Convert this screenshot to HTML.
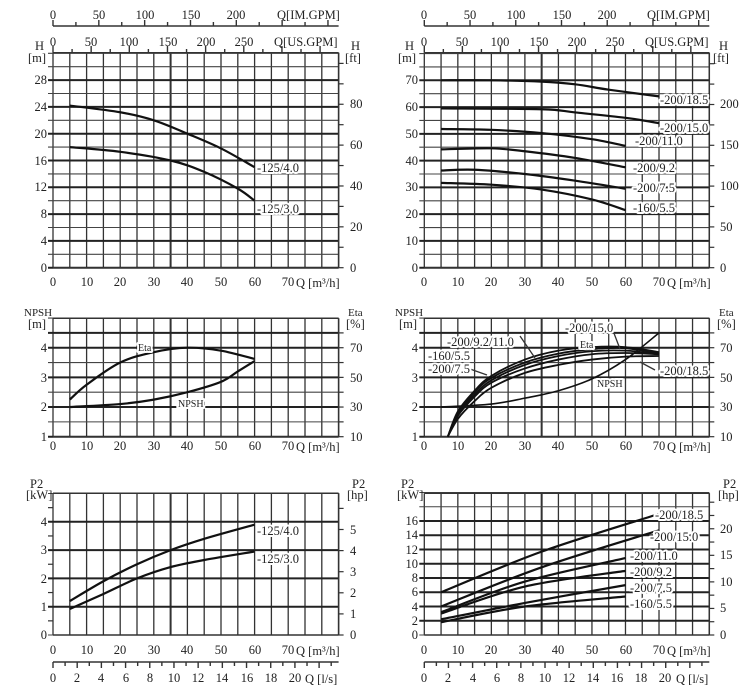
<!DOCTYPE html>
<html><head><meta charset="utf-8"><style>
html,body{margin:0;padding:0;background:#fff;}
svg{display:block;font-family:"Liberation Serif",serif;font-size:12.5px;fill:#222;}
.lb{stroke:#fff;stroke-width:4px;paint-order:stroke;stroke-linejoin:round;}
</style></head><body>
<svg id="s" width="751" height="700" viewBox="0 0 751 700" xmlns="http://www.w3.org/2000/svg">
<g id="g"></g>
<g id="t">
<!-- TOP LEFT -->
<g text-anchor="middle">
<text x="53" y="19">0</text><text x="99" y="19">50</text><text x="145" y="19">100</text><text x="191" y="19">150</text><text x="236" y="19">200</text>
<text x="53" y="46">0</text><text x="91" y="46">50</text><text x="129" y="46">100</text><text x="168" y="46">150</text><text x="206" y="46">200</text><text x="244" y="46">250</text>
</g>
<text x="277" y="19">Q[IM.GPM]</text><text x="274" y="46">Q[US.GPM]</text>
<text x="35" y="50">H</text><text x="28" y="62">[m]</text>
<text x="351" y="50">H</text><text x="345" y="62">[ft]</text>
<g text-anchor="end">
<text x="47" y="272">0</text><text x="47" y="245">4</text><text x="47" y="218">8</text><text x="47" y="191">12</text><text x="47" y="165">16</text><text x="47" y="138">20</text><text x="47" y="111">24</text><text x="47" y="84">28</text>
</g>
<text x="350" y="272">0</text><text x="350" y="231">20</text><text x="350" y="190">40</text><text x="350" y="149">60</text><text x="350" y="108">80</text>
<g text-anchor="middle">
<text x="53" y="286">0</text><text x="87" y="286">10</text><text x="120" y="286">20</text><text x="154" y="286">30</text><text x="187" y="286">40</text><text x="221" y="286">50</text><text x="255" y="286">60</text><text x="288" y="286">70</text>
</g>
<text x="296" y="287">Q [m³/h]</text>
<text class="lb" x="257" y="172">-125/4.0</text><text class="lb" x="257" y="213">-125/3.0</text>

<!-- TOP RIGHT -->
<g text-anchor="middle">
<text x="424" y="19">0</text><text x="470" y="19">50</text><text x="516" y="19">100</text><text x="562" y="19">150</text><text x="607" y="19">200</text>
<text x="424" y="46">0</text><text x="462" y="46">50</text><text x="500" y="46">100</text><text x="539" y="46">150</text><text x="577" y="46">200</text><text x="615" y="46">250</text>
</g>
<text x="647" y="19">Q[IM.GPM]</text><text x="645" y="46">Q[US.GPM]</text>
<text x="405" y="50">H</text><text x="398" y="62">[m]</text>
<text x="719" y="50">H</text><text x="713" y="62">[ft]</text>
<g text-anchor="end">
<text x="418" y="272">0</text><text x="418" y="245">10</text><text x="418" y="218">20</text><text x="418" y="191">30</text><text x="418" y="165">40</text><text x="418" y="138">50</text><text x="418" y="111">60</text><text x="418" y="84">70</text>
</g>
<text x="720" y="272">0</text><text x="720" y="231">50</text><text x="720" y="190">100</text><text x="720" y="149">150</text><text x="720" y="108">200</text>
<g text-anchor="middle">
<text x="424" y="286">0</text><text x="458" y="286">10</text><text x="491" y="286">20</text><text x="525" y="286">30</text><text x="558" y="286">40</text><text x="592" y="286">50</text><text x="626" y="286">60</text><text x="659" y="286">70</text>
</g>
<text x="667" y="287">Q [m³/h]</text>
<g class="lb">
<text x="660" y="104">-200/18.5</text><text x="660" y="132">-200/15.0</text><text x="635" y="145">-200/11.0</text><text x="633" y="172">-200/9.2</text><text x="633" y="192">-200/7.5</text><text x="633" y="212">-160/5.5</text>
</g>

<!-- MIDDLE LEFT -->
<text x="24" y="316" font-size="11">NPSH</text><text x="28" y="328">[m]</text>
<text x="348" y="316" font-size="11">Eta</text><text x="346" y="328">[%]</text>
<g text-anchor="end"><text x="47" y="441">1</text><text x="47" y="411">2</text><text x="47" y="382">3</text><text x="47" y="352">4</text></g>
<text x="350" y="441">10</text><text x="350" y="411">30</text><text x="350" y="382">50</text><text x="350" y="352">70</text>
<g text-anchor="middle">
<text x="53" y="450">0</text><text x="87" y="450">10</text><text x="120" y="450">20</text><text x="154" y="450">30</text><text x="187" y="450">40</text><text x="221" y="450">50</text><text x="255" y="450">60</text><text x="288" y="450">70</text>
</g>
<text x="296" y="451">Q [m³/h]</text>
<text class="lb" x="138" y="351" font-size="10">Eta</text><text class="lb" x="178" y="407" font-size="10">NPSH</text>

<!-- MIDDLE RIGHT -->
<text x="395" y="316" font-size="11">NPSH</text><text x="399" y="328">[m]</text>
<text x="719" y="316" font-size="11">Eta</text><text x="717" y="328">[%]</text>
<g text-anchor="end"><text x="418" y="441">1</text><text x="418" y="411">2</text><text x="418" y="382">3</text><text x="418" y="352">4</text></g>
<text x="720" y="441">10</text><text x="720" y="411">30</text><text x="720" y="382">50</text><text x="720" y="352">70</text>
<g text-anchor="middle">
<text x="424" y="450">0</text><text x="458" y="450">10</text><text x="491" y="450">20</text><text x="525" y="450">30</text><text x="558" y="450">40</text><text x="592" y="450">50</text><text x="626" y="450">60</text><text x="659" y="450">70</text>
</g>
<text x="667" y="451">Q [m³/h]</text>
<g class="lb">
<text x="565" y="332">-200/15.0</text><text x="447" y="346">-200/9.2/11.0</text><text x="580" y="348" font-size="10">Eta</text>
<text x="428" y="360">-160/5.5</text><text x="428" y="373">-200/7.5</text><text x="660" y="375">-200/18.5</text>
<text x="597" y="387" font-size="10">NPSH</text>
</g>

<!-- BOTTOM LEFT -->
<text x="30" y="488">P2</text><text x="26" y="499">[kW]</text>
<text x="352" y="488">P2</text><text x="347" y="499">[hp]</text>
<g text-anchor="end"><text x="47" y="639">0</text><text x="47" y="611">1</text><text x="47" y="583">2</text><text x="47" y="554">3</text><text x="47" y="526">4</text></g>
<text x="350" y="639">0</text><text x="350" y="618">1</text><text x="350" y="597">2</text><text x="350" y="576">3</text><text x="350" y="555">4</text><text x="350" y="534">5</text>
<g text-anchor="middle">
<text x="53" y="654">0</text><text x="87" y="654">10</text><text x="120" y="654">20</text><text x="154" y="654">30</text><text x="187" y="654">40</text><text x="221" y="654">50</text><text x="255" y="654">60</text><text x="288" y="654">70</text>
<text x="53" y="682">0</text><text x="77" y="682">2</text><text x="101" y="682">4</text><text x="126" y="682">6</text><text x="150" y="682">8</text><text x="174" y="682">10</text><text x="198" y="682">12</text><text x="222" y="682">14</text><text x="247" y="682">16</text><text x="271" y="682">18</text><text x="295" y="682">20</text>
</g>
<text x="296" y="655">Q [m³/h]</text><text x="305" y="683">Q [l/s]</text>
<text class="lb" x="257" y="535">-125/4.0</text><text class="lb" x="257" y="563">-125/3.0</text>

<!-- BOTTOM RIGHT -->
<text x="401" y="488">P2</text><text x="397" y="499">[kW]</text>
<text x="723" y="488">P2</text><text x="718" y="499">[hp]</text>
<g text-anchor="end"><text x="418" y="639">0</text><text x="418" y="625">2</text><text x="418" y="611">4</text><text x="418" y="596">6</text><text x="418" y="582">8</text><text x="418" y="568">10</text><text x="418" y="554">12</text><text x="418" y="539">14</text><text x="418" y="525">16</text></g>
<text x="720" y="639">0</text><text x="720" y="612">5</text><text x="720" y="586">10</text><text x="720" y="559">15</text><text x="720" y="533">20</text>
<g text-anchor="middle">
<text x="424" y="654">0</text><text x="458" y="654">10</text><text x="491" y="654">20</text><text x="525" y="654">30</text><text x="558" y="654">40</text><text x="592" y="654">50</text><text x="626" y="654">60</text><text x="659" y="654">70</text>
<text x="424" y="682">0</text><text x="448" y="682">2</text><text x="473" y="682">4</text><text x="497" y="682">6</text><text x="521" y="682">8</text><text x="545" y="682">10</text><text x="569" y="682">12</text><text x="593" y="682">14</text><text x="617" y="682">16</text><text x="641" y="682">18</text><text x="665" y="682">20</text>
</g>
<text x="667" y="655">Q [m³/h]</text><text x="676" y="683">Q [l/s]</text>
<g class="lb">
<text x="655" y="519">-200/18.5</text><text x="650" y="541">-200/15.0</text><text x="630" y="560">-200/11.0</text><text x="630" y="576">-200/9.2</text><text x="630" y="592">-200/7.5</text><text x="630" y="608">-160/5.5</text>
</g>
</g>
</svg>
<script>
var g=document.getElementById('g'),NS='http://www.w3.org/2000/svg';
function L(x1,y1,x2,y2,w,c){var e=document.createElementNS(NS,'line');e.setAttribute('x1',x1);e.setAttribute('y1',y1);e.setAttribute('x2',x2);e.setAttribute('y2',y2);e.setAttribute('stroke',c||'#333');e.setAttribute('stroke-width',w||1.2);g.appendChild(e);}
function P(pts,w){var d='M'+pts[0][0]+','+pts[0][1];for(var i=0;i<pts.length-1;i++){var p0=pts[i-1]||pts[i],p1=pts[i],p2=pts[i+1],p3=pts[i+2]||p2;d+=' C'+(p1[0]+(p2[0]-p0[0])/6)+','+(p1[1]+(p2[1]-p0[1])/6)+' '+(p2[0]-(p3[0]-p1[0])/6)+','+(p2[1]-(p3[1]-p1[1])/6)+' '+p2[0]+','+p2[1];}
var e=document.createElementNS(NS,'path');e.setAttribute('d',d);e.setAttribute('fill','none');e.setAttribute('stroke','#111');e.setAttribute('stroke-width',w||2.2);g.appendChild(e);}
var LX={x0:53,s:3.36},RX={x0:424.3,s:3.353};
function panel(X,top,y0,k,hs,hmax,hstep,thick,rticks){
 var xr=X.x0+85*X.s,bot=y0-hs*k;
 for(var q=0;q<=85;q+=5){var x=X.x0+q*X.s;L(x,top,x,bot,(q==35)?2:1.3,'#333');}
 for(var v=hs;v<=hmax+1e-6;v+=hstep){var y=y0-v*k;var th=thick.indexOf(Math.round(v*100)/100)>=0;L(X.x0-5,y,xr,y,th?2:1.1,th?'#222':'#444');}
 L(X.x0,top,xr,top,1.5);L(X.x0,bot,xr,bot,1.5);L(xr,top,xr,bot,1.5);
 if(rticks)rticks.forEach(function(y){L(xr,y,xr+5,y,1.2);});
}
function range(a,b,st){var r=[];for(var y=a;y>=b;y-=st)r.push(y);return r;}
panel(LX,52.7,267.7,6.7,0,32,2,[0,4,8,12,16,20,24,28],range(267.7,60,20.43));
panel(RX,52.7,267.7,2.677,0,80,5,[0,10,20,30,40,50,60,70],range(267.7,60,20.4));
panel(LX,318.3,466.37,29.67,1,5,0.5,[1,2,3,4,4.5],range(436.7,320,14.83));
panel(RX,318.3,466.37,29.67,1,5,0.5,[1,2,3,4,4.5],range(436.7,320,14.83));
panel(LX,493.3,635,28.3,0,5,1,[1,2,3,4],range(635,495,21.1));
for(var v=0.5;v<5;v+=1)L(48,635-v*28.3,53,635-v*28.3,1.2);
panel(RX,493.3,635,7.125,0,20,2,[2,4,6,8,10,12,14,16],range(635,495,13.28));
[LX,RX].forEach(function(X){var xr=X.x0+85*X.s;
 L(X.x0,26,xr,26,1.4);
 for(var im=0;im<=300;im+=25){var x=X.x0+im/3.666*X.s;if(x>xr)break;L(x,26,x,im%50==0?20:22,1.4);}
 for(var us=0;us<=370;us+=25){var x=X.x0+us/4.403*X.s;if(x>xr)break;L(x,52.7,x,us%50==0?46:49,1.4);}
 L(X.x0,662,xr,662,1.4);
 for(var ls=0;ls<=23;ls++){var x=X.x0+ls*3.6*X.s;if(x>xr)break;L(x,662,x,ls%2==0?668:666,1.4);}
});
function C(X,y0,k,d,w){P(d.map(function(p){return [X.x0+p[0]*X.s,y0-p[1]*k];}),w);}
C(LX,267.7,6.7,[[5,24.2],[20,23.2],[30,22],[40,20],[50,17.8],[60,15]]);
C(LX,267.7,6.7,[[5,18],[20,17.3],[35,16],[45,14.3],[55,11.8],[60,10]]);
var T=[[[5,70],[20,70],[35,69.5],[45,68.5],[55,66.5],[70,64]],[[5,59.5],[35,59.2],[45,58],[60,56],[70,54]],[[5,51.8],[20,51.5],[35,50.3],[50,48],[60,45.5]],[[5,44.2],[20,44.6],[30,43.5],[45,41],[60,37.5]],[[5,36.3],[15,36.6],[30,35],[45,32.5],[60,29.5]],[[5,31.7],[20,31],[35,29.2],[50,25.5],[60,21.5]]];
T.forEach(function(d){C(RX,267.7,2.677,d);});
C(LX,466.37,29.67,[[5,2.25],[10,2.75],[20,3.5],[30,3.85],[40,4.0],[50,3.9],[60,3.62]]);
C(LX,466.37,29.67,[[5,2.0],[20,2.1],[30,2.25],[40,2.5],[50,2.85],[55,3.2],[60,3.55]]);
var E=[[[7,1],[10,1.85],[15,2.55],[20,3.05],[30,3.6],[40,3.9],[50,4.02],[60,4.02],[70,3.85]],
[[7,1],[10,1.8],[15,2.5],[20,2.98],[30,3.5],[40,3.8],[50,3.95],[60,3.98],[70,3.8]],
[[7,1],[10,1.75],[15,2.42],[20,2.9],[30,3.42],[40,3.72],[50,3.88],[60,3.9],[70,3.78]],
[[7,1],[10,1.7],[15,2.35],[20,2.82],[30,3.3],[40,3.6],[50,3.78],[60,3.82],[70,3.78]],
[[7,1],[10,1.6],[15,2.2],[20,2.65],[30,3.15],[40,3.42],[50,3.6],[60,3.7],[70,3.72]]];
E.forEach(function(d){C(RX,466.37,29.67,d,1.8);});
C(RX,466.37,29.67,[[5,2.0],[20,2.1],[30,2.3],[40,2.55],[50,2.95],[60,3.6],[70,4.5]],1.6);
L(520,336,535,358,1.3);L(470,369,487,375,1.3);L(612,328,620,349,1.3);L(655,370,640,362,1.3);
C(LX,635,28.3,[[5,1.2],[15,1.9],[25,2.5],[35,3.0],[45,3.4],[60,3.9]]);
C(LX,635,28.3,[[5,0.92],[15,1.45],[25,2.0],[35,2.4],[45,2.65],[60,2.95]]);
var B=[[[5,6],[35,11.7],[70,17]],[[5,4],[35,9.5],[70,14.7]],[[5,3.2],[30,7.5],[60,10.8]],[[5,3.0],[30,6.8],[60,9]],[[5,2.2],[30,4.5],[60,7]],[[5,1.8],[30,4],[60,5.4]]];
B.forEach(function(d){C(RX,635,7.125,d);});
</script>
</body></html>
